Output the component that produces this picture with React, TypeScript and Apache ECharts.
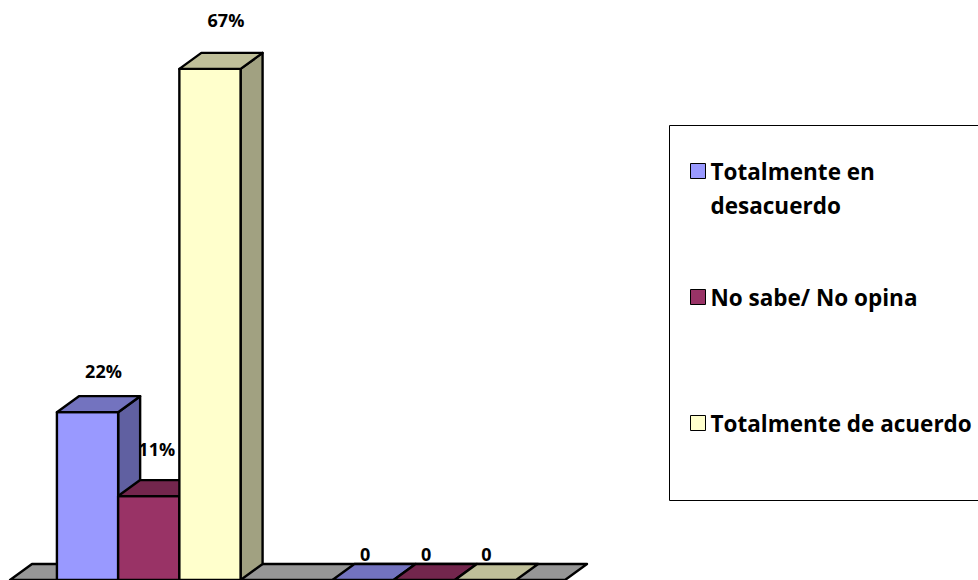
import React, { useEffect, useRef } from "react";
import * as echarts from "echarts";

const categories = ["Grupo 1", "Grupo 2"];
const seriesNames = ["Totalmente en\ndesacuerdo", "No sabe/ No opina", "Totalmente de acuerdo"];
const totalmenteEnDesacuerdo = [22, 0];
const noSabe = [11, 0];
const totalmenteDeAcuerdo = [67, 0];
const labelsEnDesacuerdo = ["22%", "0"];
const labelsNoSabe = ["11%", "0"];
const labelsDeAcuerdo = ["67%", "0"];
const colors = ["#9999FF", "#993366", "#FFFFCC"];

const DX = 22;
const DY = 16;
const FONT = "'Open Sans', Lato, sans-serif";

const shade = (hex: string, f: number) => {
  const n = parseInt(hex.slice(1), 16);
  const c = [(n >> 16) & 255, (n >> 8) & 255, n & 255].map((v) => Math.round(v * f));
  return `rgb(${c[0]},${c[1]},${c[2]})`;
};

const labelNudge = [
  [[16, 41], [2, 26]],
  [[8, 47], [2, 26]],
  [[16, 49], [1, 26]],
];

const edge = { stroke: "#000", lineWidth: 2.4, lineJoin: "round" };

const barRenderer = (si: number, labels: string[]) => (_p: any, api: any) => {
  const cat = api.value(0);
  const [cx, yTop] = api.coord([cat, api.value(1)]);
  const [, y0] = api.coord([cat, 0]);
  const band = api.size([1, 0])[0];
  const w = band / 4.5;
  const x = cx + (si - 1.5) * w;
  const c = colors[si];
  const children: any[] = [];
  if (yTop < y0) {
    children.push({
      type: "polygon",
      shape: { points: [[x + w, yTop], [x + w + DX, yTop - DY], [x + w + DX, y0 - DY], [x + w, y0]] },
      style: { fill: shade(c, 0.63), ...edge },
    });
    children.push({
      type: "rect",
      shape: { x, y: yTop, width: w, height: y0 - yTop },
      style: { fill: c, ...edge },
    });
  }
  children.push({
    type: "polygon",
    shape: { points: [[x, yTop], [x + DX, yTop - DY], [x + w + DX, yTop - DY], [x + w, yTop]] },
    style: { fill: shade(c, 0.75), ...edge },
  });
  const [nx, ny] = labelNudge[si][cat];
  children.push({
    type: "text",
    style: {
      text: labels[cat],
      x: x + w / 2 + nx,
      y: yTop - ny,
      align: "center",
      verticalAlign: "middle",
      fill: "#000",
      font: `bold 18px ${FONT}`,
    },
  });
  return { type: "group", children };
};

const floorRenderer = (_p: any, api: any) => {
  const [cx0, y0] = api.coord([0, 0]);
  const [cx1] = api.coord([1, 0]);
  const band = api.size([1, 0])[0];
  const l = cx0 - band / 2 - 1;
  const r = cx1 + band / 2 + 3;
  return {
    type: "polygon",
    shape: { points: [[l, y0], [l + DX, y0 - DY], [r + DX, y0 - DY], [r, y0]] },
    style: { fill: "#969696", ...edge },
  };
};

export default function App() {
  const ref = useRef<HTMLDivElement>(null);
  useEffect(() => {
    document.body.style.margin = "0";
    const chart = echarts.init(ref.current!, undefined, { renderer: "svg" });
    const make = (si: number, vals: number[], labels: string[]) => ({
      type: "custom",
      name: seriesNames[si],
      itemStyle: { color: colors[si] },
      renderItem: barRenderer(si, labels),
      encode: { x: 0, y: 1 },
      data: vals.map((v, i) => [i, v]),
      z: 3 + si,
    });
    chart.setOption({
      animation: false,
      grid: { left: 11, width: 551, top: 46, height: 537 },
      xAxis: { type: "category", data: categories, show: false },
      yAxis: { type: "value", min: 0, max: 70, show: false },
      graphic: [
        {
          type: "rect",
          shape: { x: 669.5, y: 125.5, width: 330, height: 375 },
          style: { fill: "#fff", stroke: "#000", lineWidth: 1 },
          z: 0,
        },
      ],
      legend: {
        orient: "vertical",
        left: 690,
        top: 120,
        padding: 0,
        itemWidth: 15,
        itemHeight: 15,
        itemGap: 24,
        icon: "rect",
        selectedMode: false,
        z: 5,
        itemStyle: { borderColor: "#000", borderWidth: 1 },
        textStyle: { fontFamily: FONT, fontWeight: "bold", fontSize: 22.5, color: "#000", lineHeight: 34 },
        formatter: (name: string) => (name.includes("\n") ? `\n${name}` : `\n${name}\n`),
        data: seriesNames,
      },
      series: [
        { type: "custom", name: "Base", renderItem: floorRenderer, encode: { x: 0, y: 1 }, data: [[0, 0]], z: 2, silent: true },
        make(0, totalmenteEnDesacuerdo, labelsEnDesacuerdo),
        make(1, noSabe, labelsNoSabe),
        make(2, totalmenteDeAcuerdo, labelsDeAcuerdo),
      ],
    });
    return () => chart.dispose();
  }, []);
  return <div ref={ref} style={{ width: 978, height: 580 }} />;
}
